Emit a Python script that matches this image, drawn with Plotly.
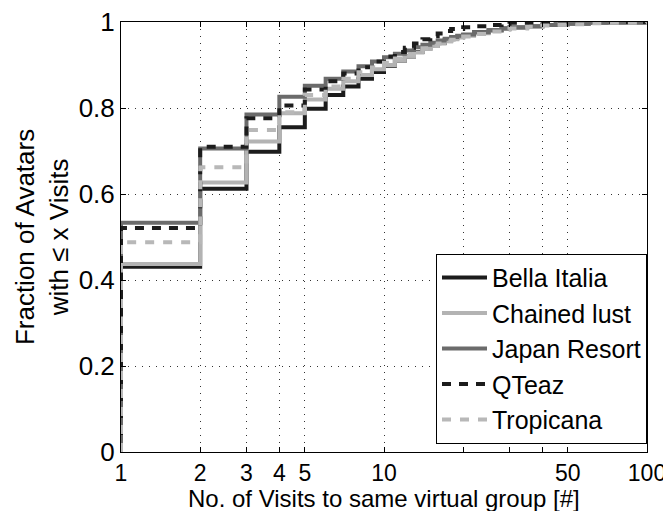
import plotly.graph_objects as go

# Step CDF data: visits (x) and fraction of avatars with <= x visits (y)
visits_bella = [1, 2, 3, 4, 5, 6, 7, 8, 9, 10, 11, 12, 13, 14, 15, 16, 17, 18, 19, 20, 22, 25, 28, 30, 35, 40, 45, 50, 60, 70, 100]
cdf_bella = [0.431, 0.612, 0.698, 0.755, 0.798, 0.83, 0.85, 0.868, 0.884, 0.898, 0.91, 0.92, 0.93, 0.938, 0.945, 0.951, 0.957, 0.962, 0.966, 0.97, 0.976, 0.981, 0.985, 0.987, 0.99, 0.993, 0.995, 0.996, 0.998, 0.999, 1.0]

visits_chained = [1, 2, 3, 4, 5, 6, 7, 8, 9, 10, 11, 12, 13, 14, 15, 16, 17, 18, 19, 20, 22, 25, 28, 30, 35, 40, 45, 50, 60, 70, 100]
cdf_chained = [0.437, 0.627, 0.722, 0.788, 0.82, 0.845, 0.862, 0.877, 0.89, 0.9, 0.91, 0.92, 0.929, 0.937, 0.944, 0.95, 0.955, 0.96, 0.964, 0.968, 0.974, 0.98, 0.984, 0.986, 0.99, 0.993, 0.995, 0.996, 0.998, 0.999, 1.0]

visits_japan = [1, 2, 3, 4, 5, 6, 7, 8, 9, 10, 11, 12, 13, 14, 15, 16, 17, 18, 19, 20, 22, 25, 28, 30, 35, 40, 45, 50, 60, 70, 100]
cdf_japan = [0.533, 0.706, 0.785, 0.826, 0.852, 0.868, 0.885, 0.897, 0.908, 0.918, 0.926, 0.934, 0.941, 0.947, 0.952, 0.957, 0.961, 0.965, 0.968, 0.971, 0.976, 0.981, 0.985, 0.987, 0.99, 0.993, 0.995, 0.996, 0.998, 0.999, 1.0]

visits_qteaz = [1, 2, 3, 4, 5, 6, 7, 8, 9, 10, 11, 12, 13, 14, 15, 16, 17, 18, 20, 22, 25, 28, 30, 35, 40, 100]
cdf_qteaz = [0.521, 0.71, 0.776, 0.806, 0.843, 0.862, 0.88, 0.895, 0.908, 0.92, 0.93, 0.94, 0.95, 0.96, 0.967, 0.973, 0.979, 0.984, 0.988, 0.99, 0.993, 0.996, 0.998, 0.999, 1.0, 1.0]

visits_tropicana = [1, 2, 3, 4, 5, 6, 7, 8, 9, 10, 11, 12, 13, 14, 15, 16, 17, 18, 19, 20, 22, 25, 28, 30, 35, 40, 45, 50, 60, 70, 100]
cdf_tropicana = [0.488, 0.662, 0.749, 0.79, 0.83, 0.85, 0.868, 0.883, 0.895, 0.905, 0.915, 0.924, 0.932, 0.939, 0.945, 0.95, 0.955, 0.959, 0.963, 0.966, 0.972, 0.978, 0.982, 0.985, 0.989, 0.992, 0.994, 0.995, 0.997, 0.998, 1.0]

series_names = ["Bella Italia", "Chained lust", "Japan Resort", "QTeaz", "Tropicana"]
x_tick_vals = [1, 2, 3, 4, 5, 10, 20, 30, 40, 50, 100]
x_tick_text = ["1", "2", "3", "4", "5", "10", "", "", "", "50", "100"]
y_tick_vals = [0, 0.2, 0.4, 0.6, 0.8, 1]
y_tick_text = ["0", "0.2", "0.4", "0.6", "0.8", "1"]
x_title = "No. of Visits to same virtual group [#]"
y_title = "Fraction of Avatars<br>with \u2264 x Visits"

series = [
    (visits_bella, cdf_bella, "#1c1c1c", "solid"),
    (visits_chained, cdf_chained, "#b3b3b3", "solid"),
    (visits_japan, cdf_japan, "#6b6b6b", "solid"),
    (visits_qteaz, cdf_qteaz, "#1c1c1c", "9px,8px"),
    (visits_tropicana, cdf_tropicana, "#b8b8b8", "9px,9px"),
]

fig = go.Figure()
for name, (xs, ys, color, dash) in zip(series_names, series):
    fig.add_trace(go.Scatter(
        x=[xs[0]] + list(xs), y=[0] + list(ys),
        mode="lines", line=dict(shape="hv", color=color, width=4, dash=dash),
        name=name,
    ))

font = "Liberation Sans, Arial, Helvetica, sans-serif"
# the page body has an 8px margin, so the figure is 663x503 and starts at (8, 8)
fig.update_layout(
    width=663, height=503,
    margin=dict(l=113, r=24, t=14, b=59, autoexpand=False),
    paper_bgcolor="white", plot_bgcolor="white",
    font=dict(family=font, size=25, color="black"),
    showlegend=True,
    legend=dict(
        x=1, y=0.019, xanchor="right", yanchor="bottom",
        bgcolor="white", bordercolor="black", borderwidth=1,
        font=dict(size=25, family=font), itemwidth=45,
        tracegroupgap=0, traceorder="normal",
    ),
    annotations=[
        dict(text=x_title, xref="paper", yref="paper", x=0.5, y=-0.108,
             xanchor="center", yanchor="middle", showarrow=False,
             font=dict(size=24, family=font)),
        dict(text=y_title, xref="paper", yref="paper", x=-0.15, y=0.5,
             xanchor="center", yanchor="middle", showarrow=False, textangle=-90,
             font=dict(size=26, family=font)),
    ],
)
fig.update_xaxes(
    type="log", range=[0, 2], automargin=False,
    tickvals=x_tick_vals, ticktext=x_tick_text,
    ticks="inside", ticklen=5, tickcolor="black",
    showline=True, linecolor="black", linewidth=1, mirror="ticks",
    showgrid=True, gridcolor="#333333", griddash="1px,6px", gridwidth=1,
    zeroline=False, ticklabeloverflow="allow",
    tickfont=dict(size=23),
)
fig.update_yaxes(
    range=[0, 1], automargin=False,
    tickvals=y_tick_vals, ticktext=y_tick_text,
    ticks="inside", ticklen=5, tickcolor="black",
    showline=True, linecolor="black", linewidth=1, mirror="ticks",
    showgrid=True, gridcolor="#333333", griddash="1px,6px", gridwidth=1,
    zeroline=False, ticklabeloverflow="allow",
    tickfont=dict(size=26),
)

fig.write_html("out.html")
